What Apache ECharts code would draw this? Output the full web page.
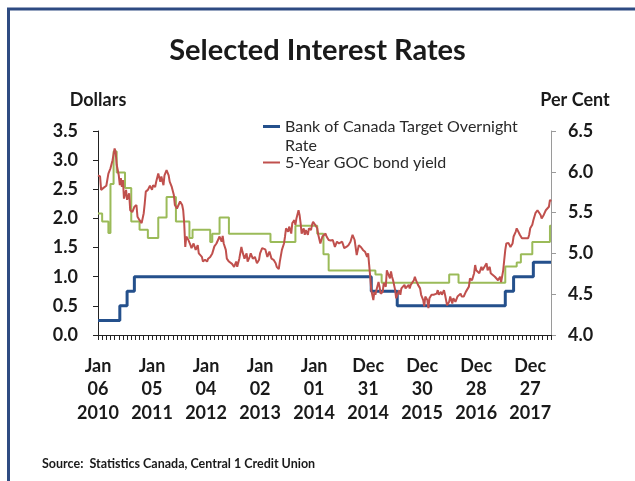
<!DOCTYPE html>
<html>
<head>
<meta charset="utf-8">
<script src="https://cdn.jsdelivr.net/npm/echarts@6/dist/echarts.min.js"></script>
<style>
  html, body { margin: 0; padding: 0; background: #ffffff; }
  #chart { width: 635px; height: 481px; }
</style>
</head>
<body>
<div id="chart"></div>
<script>
// Weekly observations (Wednesdays) starting Jan 06 2010; x positions are week numbers.
const startDate = new Date(Date.UTC(2010, 0, 6));
const weekCount = 437;

// Labels shown every 52 weeks along the bottom axis
const tickLabels = ['Jan\n06\n2010', 'Jan\n05\n2011', 'Jan\n04\n2012', 'Jan\n02\n2013', 'Jan\n01\n2014',
                    'Dec\n31\n2014', 'Dec\n30\n2015', 'Dec\n28\n2016', 'Dec\n27\n2017'];

// Bank of Canada target overnight rate: [week, new rate]
const overnightRate = [[0, 0.25], [21, 0.5], [28, 0.75], [35, 1.0], [263, 0.75], [288, 0.5],
                       [392, 0.75], [400, 1.0], [419, 1.25], [436, 1.25]];

// 5-year conventional mortgage rate (per cent, right axis): [week, new rate]
const mortgageRate = [[0, 5.49], [4, 5.39], [10, 5.25], [12, 5.85], [15, 6.25], [18, 5.99], [26, 5.80],
                      [32, 5.39], [40, 5.29], [48, 5.19], [58, 5.44], [66, 5.69], [75, 5.39], [88, 5.19],
                      [91, 5.29], [108, 5.14], [110, 5.24], [117, 5.44], [126, 5.24], [166, 5.14],
                      [190, 5.34], [211, 5.24], [217, 4.99], [222, 4.79], [267, 4.74], [273, 4.64],
                      [338, 4.74], [347, 4.64], [392, 4.84], [403, 4.89], [407, 4.99], [418, 5.14],
                      [435, 5.34], [436, 5.34]];

// 5-year Government of Canada bond yield: [week, yield]
const bondYield = [
  [0,2.74],[2,2.72],[3,2.49],[5,2.52],[8,2.56],[10,2.77],[12,2.86],[14,3.00],[16,3.20],[17,3.14],
  [18,2.92],[20,2.74],[21,2.57],[22,2.69],[23,2.54],[24,2.66],[25,2.34],[27,2.49],[28,2.32],[30,2.43],
  [31,2.14],[33,2.11],[35,2.20],[37,2.23],[38,2.03],[40,1.97],[42,1.92],[44,2.09],[45,2.26],[46,2.46],
  [48,2.49],[50,2.56],[52,2.49],[53,2.57],[55,2.54],[56,2.63],[58,2.77],[60,2.63],[61,2.72],[63,2.57],
  [64,2.74],[66,2.83],[68,2.74],[69,2.63],[71,2.54],[73,2.40],[74,2.23],[76,2.17],[77,2.20],[79,2.29],
  [81,2.23],[82,2.14],[83,1.91],[84,1.51],[85,1.69],[87,1.63],[89,1.54],[90,1.49],[92,1.57],[93,1.60],
  [94,1.46],[96,1.54],[97,1.40],[98,1.40],[100,1.34],[101,1.26],[103,1.29],[105,1.26],[106,1.31],
  [108,1.34],[110,1.40],[112,1.52],[114,1.57],[117,1.69],[119,1.60],[120,1.70],[121,1.57],[123,1.46],
  [124,1.31],[126,1.26],[129,1.22],[131,1.17],[133,1.26],[134,1.17],[136,1.31],[138,1.51],[139,1.43],
  [141,1.31],[143,1.40],[144,1.26],[146,1.34],[147,1.40],[149,1.31],[151,1.34],[153,1.23],[155,1.29],
  [156,1.40],[158,1.49],[159,1.51],[161,1.47],[163,1.34],[165,1.43],[167,1.31],[169,1.29],[171,1.23],
  [172,1.17],[174,1.13],[175,1.26],[177,1.46],[179,1.57],[180,1.69],[181,1.83],[183,1.77],[184,1.86],
  [186,1.74],[187,1.92],[189,1.97],[190,1.89],[191,2.00],[193,2.14],[194,2.06],[195,1.92],[196,1.74],
  [198,1.83],[199,1.72],[200,1.80],[202,1.72],[203,1.83],[205,1.80],[206,1.89],[207,1.94],[209,1.89],
  [211,1.83],[212,1.72],[214,1.57],[216,1.69],[217,1.66],[219,1.74],[220,1.69],[222,1.63],[224,1.62],
  [226,1.63],[228,1.51],[230,1.60],[232,1.57],[235,1.60],[237,1.49],[239,1.51],[241,1.54],[243,1.60],
  [245,1.72],[247,1.63],[249,1.37],[251,1.54],[253,1.51],[255,1.46],[257,1.43],[259,1.34],[260,1.40],
  [261,1.20],[262,1.00],[263,0.77],[265,0.60],[266,0.74],[267,0.69],[268,0.77],[270,0.91],[271,0.83],
  [272,0.71],[274,0.74],[275,0.89],[277,0.83],[278,1.11],[279,1.06],[281,0.97],[282,1.09],[283,1.00],
  [284,0.94],[286,0.77],[287,0.63],[288,0.69],[290,0.77],[291,0.69],[292,0.80],[293,0.77],[295,0.86],
  [296,0.80],[297,0.83],[299,0.86],[300,0.80],[301,0.86],[302,0.89],[304,0.94],[305,1.00],[306,0.94],
  [308,0.86],[309,0.83],[310,0.80],[311,0.69],[313,0.60],[314,0.49],[315,0.66],[317,0.60],[318,0.46],
  [319,0.63],[321,0.69],[322,0.71],[323,0.69],[324,0.66],[326,0.71],[327,0.77],[328,0.69],
  [330,0.74],[331,0.69],[333,0.77],[334,0.69],[336,0.51],[338,0.57],[339,0.66],[341,0.54],[342,0.63],
  [344,0.57],[346,0.66],[347,0.63],[349,0.71],[350,0.66],[352,0.66],[354,0.74],[355,0.71],[357,0.83],
  [358,0.97],[360,0.94],[362,1.06],[363,1.20],[364,1.11],[365,1.14],[367,1.06],[369,1.17],[370,1.11],
  [372,1.17],[374,1.23],[375,1.11],[377,1.17],[378,1.06],[380,1.03],[382,1.00],[383,0.97],[385,0.94],
  [386,0.91],[387,1.00],[388,0.91],[390,1.11],[391,1.29],[392,1.46],[393,1.57],[394,1.54],[395,1.58],
  [397,1.51],[399,1.57],[400,1.69],[402,1.77],[403,1.83],[404,1.80],[406,1.72],[408,1.66],[409,1.63],
  [411,1.66],[412,1.63],[414,1.66],[415,1.72],[416,1.83],[418,1.89],[419,1.97],[421,2.09],[423,2.14],
  [424,2.12],[426,2.06],[427,2.00],[429,2.06],[431,2.14],[432,2.17],[434,2.20],[435,2.32],[436,2.29]
];

const seriesNames = ['Bank of Canada Target Overnight Rate', '5-Year GOC bond yield', '5-Year Conventional Mortgage Rate'];

// Weekly category list (ISO dates)
const weeks = [];
for (let i = 0; i < weekCount; i++) {
  const d = new Date(startDate.getTime() + i * 7 * 86400000);
  weeks.push(d.toISOString().slice(0, 10));
}

const FONT = 'Lato';
const BLUE = '#24508C';
const RED = '#C0504D';
const GREEN = '#9BBB59';

const chart = echarts.init(document.getElementById('chart'), null, { renderer: 'canvas' });
chart.setOption({
  animation: false,
  backgroundColor: '#ffffff',
  textStyle: { fontFamily: FONT },
  graphic: [{
    type: 'rect', silent: true, z: -1,
    shape: { x: 8.5, y: 9, width: 700, height: 600 },
    style: { fill: 'none', stroke: '#2E4B82', lineWidth: 3 }
  }],
  title: [
    { text: 'Selected Interest Rates', left: 'center', top: 31,
      textStyle: { fontFamily: FONT, fontWeight: 'bold', fontSize: 29, color: '#1a1a1a' } },
    { text: 'Source:  Statistics Canada, Central 1 Credit Union', left: 37, top: 452,
      textStyle: { fontFamily: FONT, fontWeight: 'bold', fontSize: 12.5, color: '#1a1a1a' } }
  ],
  legend: [
    // the leading empty line keeps the icon level with the first line of text
    { data: [seriesNames[0]], left: 263, top: 98, orient: 'vertical', padding: 0,
      icon: 'rect', itemWidth: 17, itemHeight: 3, itemGap: 0, selectedMode: false,
      formatter: () => '\nBank of Canada Target Overnight\nRate',
      textStyle: { fontFamily: FONT, fontSize: 16, color: '#2a2a2a', lineHeight: 19 } },
    { data: [seriesNames[1]], left: 263, top: 153, orient: 'vertical', padding: 0,
      icon: 'rect', itemWidth: 17, itemHeight: 2, selectedMode: false,
      textStyle: { fontFamily: FONT, fontSize: 16, color: '#2a2a2a', lineHeight: 19 } }
  ],
  grid: { left: 98, right: 84, top: 131, bottom: 146, containLabel: false },
  xAxis: {
    type: 'category', data: weeks, boundaryGap: false,
    axisLine: { lineStyle: { color: '#222', width: 1 } },
    axisTick: { show: true, inside: false, length: 5, interval: (i) => i % 4 === 0,
                lineStyle: { color: '#222' } },
    axisLabel: {
      interval: (i) => i % 52 === 0,
      formatter: (v, i) => tickLabels[i / 52] || '',
      margin: 19, fontFamily: FONT, fontWeight: 'bold', fontSize: 18, lineHeight: 23.5, color: '#1a1a1a'
    },
    splitLine: { show: false }
  },
  yAxis: [
    { type: 'value', min: 0, max: 3.5, interval: 0.5, position: 'left',
      name: 'Dollars', nameLocation: 'end', nameGap: 22,
      nameTextStyle: { fontFamily: FONT, fontWeight: 'bold', fontSize: 18, color: '#1a1a1a' },
      axisLine: { show: true, lineStyle: { color: '#222' } },
      axisTick: { show: true, inside: false, length: 5, lineStyle: { color: '#222' } },
      axisLabel: { margin: 20, fontFamily: FONT, fontWeight: 'bold', fontSize: 18, color: '#1a1a1a',
                   formatter: (v) => v.toFixed(1) },
      splitLine: { show: false } },
    { type: 'value', min: 4.0, max: 6.5, interval: 0.5, position: 'right',
      name: 'Per Cent', nameLocation: 'end', nameGap: 22,
      nameTextStyle: { fontFamily: FONT, fontWeight: 'bold', fontSize: 18, color: '#1a1a1a',
                       padding: [0, 0, 0, 48] },
      axisLine: { show: true, lineStyle: { color: '#9a9a9a' } },
      axisTick: { show: true, inside: false, length: 5, lineStyle: { color: '#9a9a9a' } },
      axisLabel: { margin: 17, fontFamily: FONT, fontWeight: 'bold', fontSize: 18, color: '#1a1a1a',
                   formatter: (v) => v.toFixed(1) },
      splitLine: { show: false } }
  ],
  series: [
    { name: seriesNames[2], type: 'line', yAxisIndex: 1, step: 'end', data: mortgageRate,
      showSymbol: false, lineStyle: { color: GREEN, width: 2 }, itemStyle: { color: GREEN }, z: 2 },
    { name: seriesNames[0], type: 'line', yAxisIndex: 0, step: 'end', data: overnightRate,
      showSymbol: false, lineStyle: { color: BLUE, width: 3 }, itemStyle: { color: BLUE }, z: 3 },
    { name: seriesNames[1], type: 'line', yAxisIndex: 0, data: bondYield,
      showSymbol: false, lineStyle: { color: RED, width: 2 }, itemStyle: { color: RED }, z: 4 }
  ]
});
</script>
</body>
</html>
